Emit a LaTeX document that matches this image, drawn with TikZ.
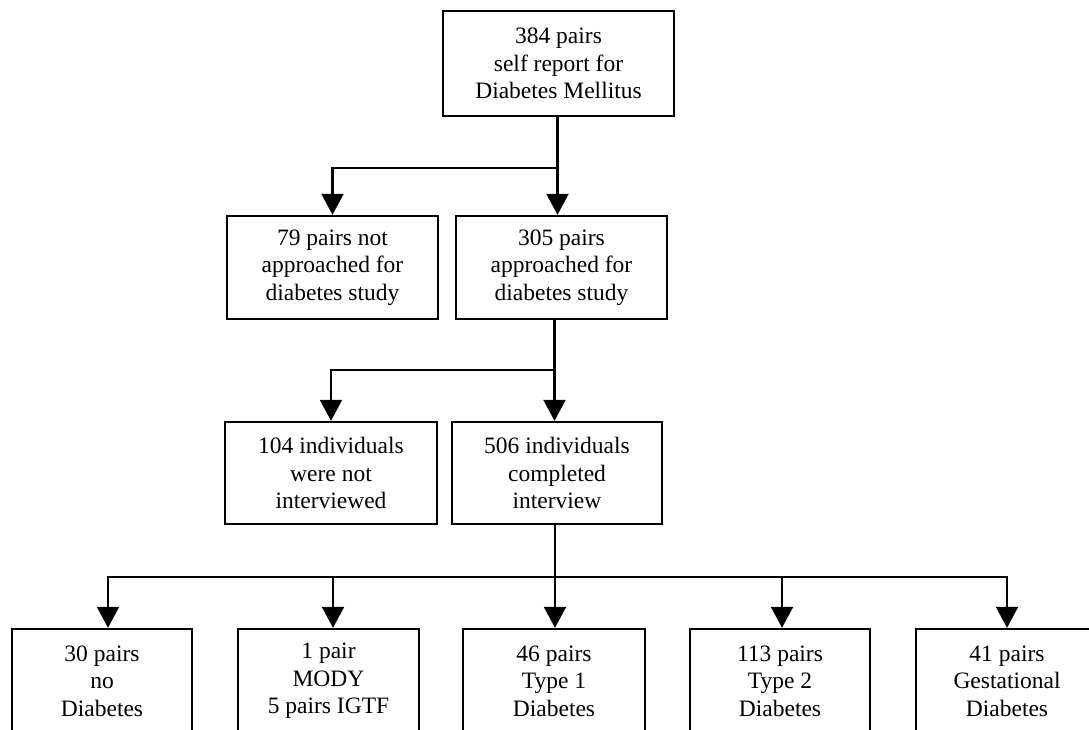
\documentclass[tikz,border=0pt]{standalone}
\usepackage{fontspec}
\setmainfont{Liberation Serif}
\usetikzlibrary{arrows.meta}
\begin{document}
\begin{tikzpicture}[x=1pt,y=-1pt,
  box/.style={draw,line width=2.4pt,inner sep=0pt,align=center,
    font=\fontsize{23.5}{27.5}\selectfont},
  conn/.style={line width=2.2pt},
  arr/.style={line width=2.2pt,-{Triangle[width=22pt,length=21pt]}}]
\useasboundingbox[fill=white] (0,0) rectangle (1089,729);
\node[box,minimum width=231pt,minimum height=105pt] (top) at (558.5,63.5) {384 pairs\\self report for\\Diabetes Mellitus};
\node[box,minimum width=211pt,minimum height=103pt] (n79) at (332.5,267.5) {79 pairs not\\approached for\\diabetes study};
\node[box,minimum width=211pt,minimum height=103pt] (n305) at (561.5,267.5) {305 pairs\\approached for\\diabetes study};
\node[box,minimum width=212pt,minimum height=102pt] (n104) at (331,473) {104 individuals\\were not\\interviewed};
\node[box,minimum width=210pt,minimum height=102pt] (n506) at (557,473) {506 individuals\\completed\\interview};
\node[box,minimum width=180pt,minimum height=104pt] (b1) at (102,681) {30 pairs\\no\\Diabetes};
\node[box,minimum width=181pt,minimum height=104pt] (b2) at (328.5,681) {1 pair\\MODY\\5 pairs IGTF};
\node[box,minimum width=182pt,minimum height=104pt] (b3) at (554,681) {46 pairs\\Type 1\\Diabetes};
\node[box,minimum width=180pt,minimum height=104pt] (b4) at (780,681) {113 pairs\\Type 2\\Diabetes};
\node[box,minimum width=182pt,minimum height=104pt] (b5) at (1007,681) {41 pairs\\Gestational\\Diabetes};
\coordinate (j1) at (557.5,168);
\coordinate (j2) at (554.5,370);
\coordinate (j3) at (555,577);
\draw[conn] (top.south -| j1) -- (j1);
\draw[arr] (j1) -| (n79.north);
\draw[arr] (j1) -- (j1 |- n305.north);
\draw[conn] (n305.south -| j2) -- (j2);
\draw[arr] (j2) -| (n104.north);
\draw[arr] (j2) -- (j2 |- n506.north);
\draw[conn] (n506.south -| j3) -- (j3);
\draw[arr] (j3) -| ([xshift=6pt]b1.north);
\draw[arr] (j3) -| ([xshift=4.5pt]b2.north);
\draw[arr] (j3) -- (j3 |- b3.north);
\draw[arr] (j3) -| ([xshift=2pt]b4.north);
\draw[arr] (j3) -| (b5.north);
\end{tikzpicture}
\end{document}
